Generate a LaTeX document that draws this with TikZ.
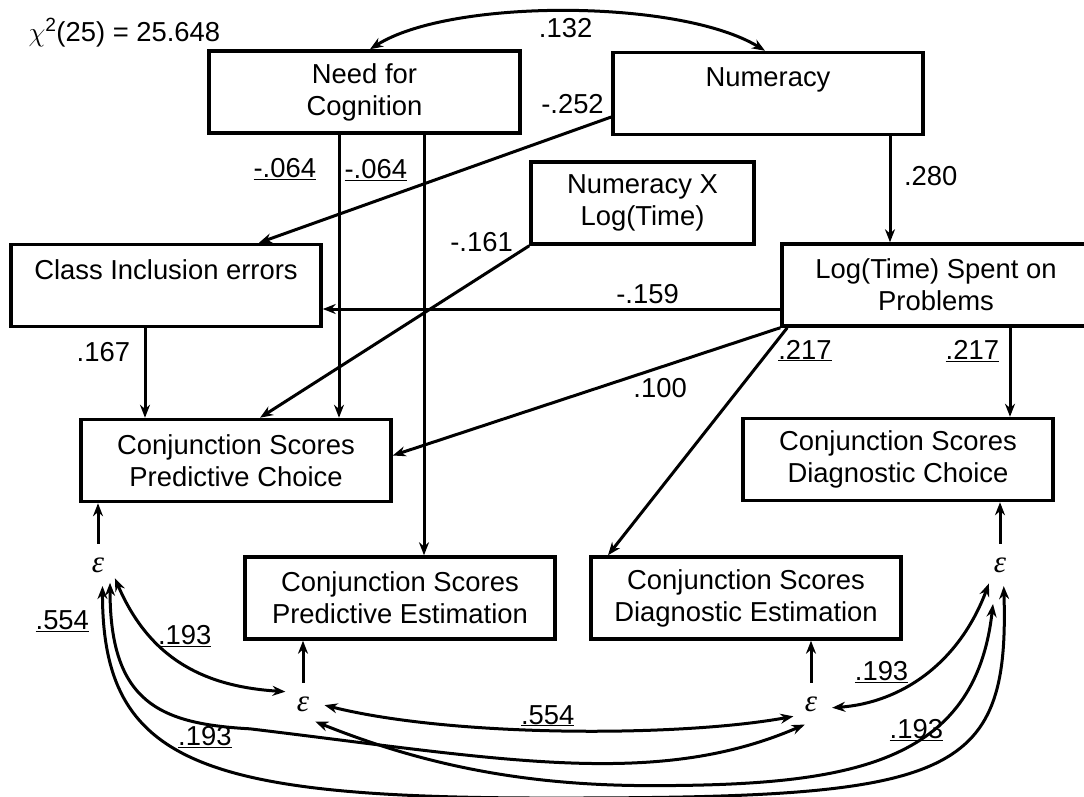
\RequirePackage{fix-cm}
\documentclass[tikz,border=0pt]{standalone}
\usepackage{fontspec}
\setmainfont{Liberation Sans}
\newfontfamily\epsfont{Liberation Serif}
\usepackage{tikz}
\usetikzlibrary{arrows.meta}
\tikzstyle{var}=[rectangle, draw, line width=3.5pt, minimum width=310pt, minimum height=82pt, align=center, inner sep=0pt]
\tikzstyle{eps}=[circle, inner sep=0pt, minimum size=40pt, font=\epsfont\itshape\fontsize{31}{32}\selectfont]
\tikzstyle{lbl}=[inner sep=1.5pt]
\newcommand{\coefu}[1]{\underline{#1}}

\begin{document}
\begin{tikzpicture}[x=1pt, y=-1pt]

\tikzset{>={Stealth[length=13pt, width=10pt]}}
\tikzset{every node/.style={font=\fontsize{27.4}{32}\selectfont}}
\tikzset{every path/.style={line width=3pt}}

\useasboundingbox (0,0) rectangle (1084,796);

% Observed variables
\node[var, minimum width=311pt] (nfc) at (364.5,92) {Need for\\Cognition};
\node[var] (num) at (768,93.5) {Numeracy\\~};
\node[var, minimum width=223pt] (numx) at (642.5,203) {Numeracy X\\Log(Time)};
\node[var] (cie) at (166,285.5) {Class Inclusion errors\\~};
\node[var, minimum width=308pt] (logt) at (936,285) {Log(Time) Spent on\\Problems};
\node[var] (pc) at (236,460.5) {Conjunction Scores\\Predictive Choice};
\node[var] (dc) at (898,459.5) {Conjunction Scores\\Diagnostic Choice};
\node[var] (pe) at (400,598) {Conjunction Scores\\Predictive Estimation};
\node[var] (de) at (746,598) {Conjunction Scores\\Diagnostic Estimation};

% Residuals
\node[eps] (eL) at (98,565) {ε};
\node[eps] (eML) at (303,704) {ε};
\node[eps] (eMR) at (811,704) {ε};
\node[eps] (eR) at (1000,565) {ε};

% Fit
\node[anchor=west, inner sep=0pt] (chi) at (27,33) {$\chi$\textsuperscript{2}(25) = 25.648};

% Paths between variables
\draw[<->] ([xshift=5.5pt]nfc.north) .. controls +(80,-51) and +(-85,-52) .. ([xshift=-3pt]num.north)
    node[lbl, pos=0.5, below=4pt] {.132}; % nfc <-> num
\draw[->] ([yshift=-23.5pt]num.west) -- ([xshift=93pt]cie.north)
    node[lbl, pos=0.11, above=14pt] {-.252}; % num -> cie
\draw[->] ([xshift=-25.5pt]nfc.south) -- ([xshift=103pt]pc.north)
    node[lbl, pos=0.12, left=20pt] {\coefu{-.064}}; % nfc -> pc
\draw[->] ([xshift=59.5pt]nfc.south) -- ([xshift=24pt]pe.north)
    node[lbl, pos=0.083, left=14pt] {\coefu{-.064}}; % nfc -> pe
\draw[->] ([xshift=122pt]num.south) -- ([xshift=-46pt]logt.north)
    node[lbl, pos=0.38, right=11pt] {.280}; % num -> logt
\draw[->] (numx.south west) -- ([xshift=24pt]pc.north)
    node[lbl, pos=0.05, anchor=south east] {-.161}; % numx -> pc
\draw[->] ([yshift=-24pt]logt.west) -- ([yshift=-23.5pt]cie.east)
    node[lbl, pos=0.29, above=2pt] {-.159}; % logt -> cie
\draw[->] ([xshift=-21pt]cie.south) -- ([xshift=-91pt]pc.north)
    node[lbl, pos=0.27, left=12pt] {.167}; % cie -> pc
\draw[->] (logt.south west) -- ([yshift=5pt]pc.east)
    node[lbl, pos=0.31, below=8pt] {.100}; % logt -> pc
\draw[->] ([xshift=7pt]logt.south west) -- ([xshift=-138pt]de.north)
    node[lbl, pos=0.1, right=6pt] {\coefu{.217}}; % logt -> de
\draw[->] ([xshift=74pt]logt.south) -- ([xshift=112pt]dc.north)
    node[lbl, pos=0.26, left=8pt] {\coefu{.217}}; % logt -> dc

% Residual arrows
\draw[->] (eL) -- (eL |- pc.south);
\draw[->] (eML) -- (eML |- pe.south);
\draw[->] (eMR) -- (eMR |- de.south);
\draw[->] (eR) -- (eR |- dc.south);

% Residual correlations
\draw[<->] (eL.-38) .. controls +(36,84) and +(-77,-5) .. (eML.145)
    node[lbl, pos=0.5, above=15pt] {\coefu{.193}}; % eL <-> eML
\draw[<->] (eL.-56) .. controls +(0,120) and +(-90,-5) .. ++(140,146)
    node[lbl, pos=0.8, below=0pt, xshift=4pt] {\coefu{.193}}
    .. controls +(250,30) and +(-150,65) .. (eMR.-107); % eL <-> eMR
\draw[<->] (eL.-78) .. controls +(0,177) and +(-350,0) .. ++(448,212)
    node[lbl, pos=0.07, left=12pt] {\coefu{.554}}
    .. controls +(400,0) and +(6,195) .. (eR.-80); % eL <-> eR
\draw[<->] (eML.-3) .. controls +(127,32) and +(-115,21) .. (eMR.-145)
    node[lbl, pos=0.47, above=1pt] {\coefu{.554}}; % eML <-> eMR
\draw[<->] (eML.-55) .. controls +(105,42) and +(-130,0) .. ++(335.5,64)
    .. controls +(200,0) and +(-18,160) .. ([shift={(-7,39)}]eR.center)
    node[lbl, pos=0.58, above=-3pt] {\coefu{.193}}; % eML <-> eR
\draw[<->] (eMR.-10) .. controls +(69,-5) and +(-30,80) .. (eR.-121)
    node[lbl, pos=0.25, above=12pt] {\coefu{.193}}; % eMR <-> eR

\end{tikzpicture}
\end{document}
